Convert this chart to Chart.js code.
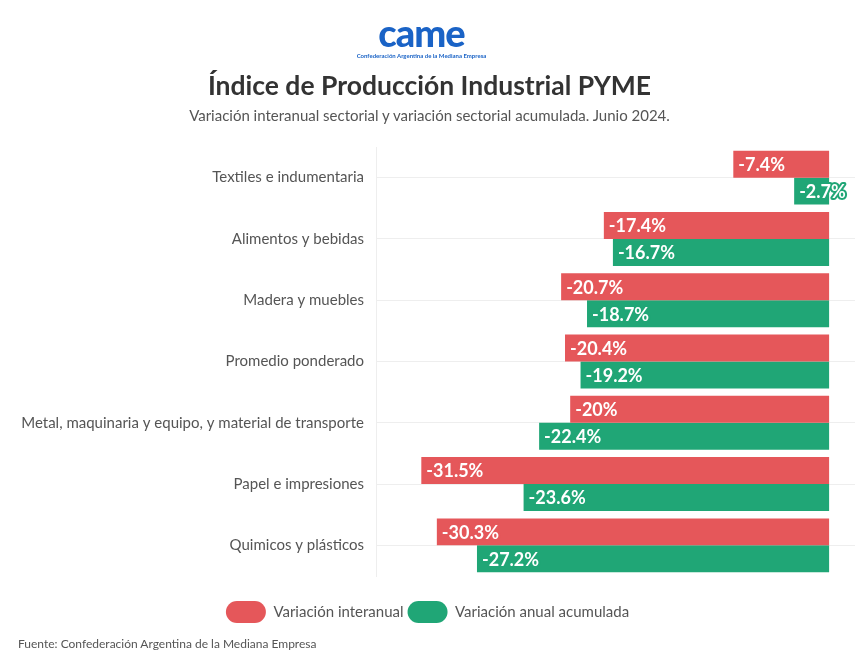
<!DOCTYPE html>
<html>
<head>
<meta charset="utf-8">
<script src="https://cdn.jsdelivr.net/npm/chart.js@4.4.1/dist/chart.umd.min.js"></script>
<style>
    body { margin: 0; background: #fff; font-family: Lato, sans-serif; }
    #wrap { position: relative; width: 859px; height: 661px; }
    #logo { position: absolute; left: -8px; width: 859px; top: 12px; text-align: center; color: #1a63c6; }
    #logo .name { font: 900 38px Lato, sans-serif; letter-spacing: -1px; line-height: 40px; }
    #logo .tag { font: bold 6px Lato, sans-serif; line-height: 8px; }
    #title { position: absolute; left: 0; width: 859px; top: 69px; text-align: center; font: bold 26.5px Lato, sans-serif; color: #333; }
    #subtitle { position: absolute; left: 0; width: 859px; top: 106px; text-align: center; font: 15px Lato, sans-serif; color: #555; }
    #source { position: absolute; left: 18px; top: 636px; font: 12px Lato, sans-serif; color: #555; }
    canvas { position: absolute; left: 0; top: 0; }
</style>
</head>
<body>
<div id="wrap">
    <canvas id="chart" width="859" height="661"></canvas>
    <div id="logo"><div class="name">came</div><div class="tag">Confederación Argentina de la Mediana Empresa</div></div>
    <div id="title">Índice de Producción Industrial PYME</div>
    <div id="subtitle">Variación interanual sectorial y variación sectorial acumulada. Junio 2024.</div>
    <div id="source">Fuente: Confederación Argentina de la Mediana Empresa</div>
</div>
<script>
// ------------------- Data -------------------
const sectors = [
    'Textiles e indumentaria',
    'Alimentos y bebidas',
    'Madera y muebles',
    'Promedio ponderado',
    'Metal, maquinaria y equipo, y material de transporte',
    'Papel e impresiones',
    'Quimicos y plásticos'
];
const interanual = [-7.4, -17.4, -20.7, -20.4, -20, -31.5, -30.3];
const acumulada = [-2.7, -16.7, -18.7, -19.2, -22.4, -23.6, -27.2];

const RED = '#e5575a';
const GREEN = '#20a676';

// ------------------- Bar value labels -------------------
const barLabels = {
    id: 'barLabels',
    afterDatasetsDraw(chart) {
        const ctx = chart.ctx;
        ctx.save();
        ctx.font = 'bold 18px Lato, sans-serif';
        ctx.textAlign = 'left';
        ctx.textBaseline = 'middle';
        ctx.lineJoin = 'round';
        chart.data.datasets.forEach((ds, i) => {
            chart.getDatasetMeta(i).data.forEach((bar, j) => {
                const text = ds.data[j] + '%';
                const x = Math.min(bar.x, bar.base) + 5;
                ctx.lineWidth = 4;
                ctx.strokeStyle = ds.backgroundColor;
                ctx.strokeText(text, x, bar.y + 1);
                ctx.fillStyle = '#fff';
                ctx.fillText(text, x, bar.y + 1);
            });
        });
        ctx.restore();
    }
};

new Chart(document.getElementById('chart').getContext('2d'), {
    type: 'bar',
    data: {
        labels: sectors,
        datasets: [
            { label: 'Variación interanual', data: interanual, backgroundColor: RED },
            { label: 'Variación anual acumulada', data: acumulada, backgroundColor: GREEN }
        ]
    },
    options: {
        indexAxis: 'y',
        responsive: false,
        animation: false,
        categoryPercentage: 0.88,
        barPercentage: 1,
        layout: { padding: { top: 147, right: 4, bottom: 28, left: 0 } },
        scales: {
            x: {
                min: -35,
                max: 2,
                afterFit: (scale) => { scale.height = 21; },
                grid: { display: false },
                border: { display: false },
                ticks: { display: false }
            },
            y: {
                afterFit: (scale) => { scale.width = 376; },
                grid: { offset: false, color: '#eeeeee', drawTicks: false },
                border: { color: '#eeeeee' },
                ticks: { color: '#555', font: { family: 'Lato', size: 15 }, padding: 12 }
            }
        },
        plugins: {
            legend: {
                position: 'bottom',
                labels: {
                    boxWidth: 40,
                    boxHeight: 22,
                    useBorderRadius: true,
                    borderRadius: 11,
                    padding: 4,
                    color: '#555',
                    font: { family: 'Lato', size: 15 }
                }
            },
            tooltip: { enabled: false }
        }
    },
    plugins: [barLabels]
});
</script>
</body>
</html>
